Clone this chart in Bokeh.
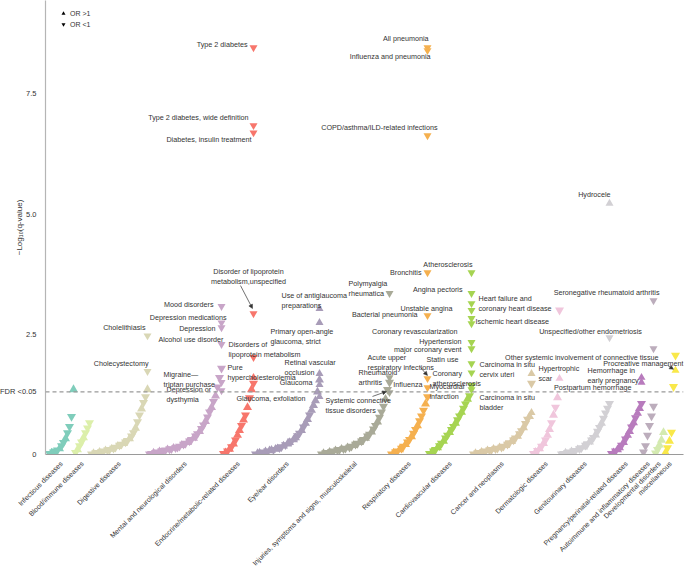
import numpy as np
from bokeh.plotting import figure
from bokeh.models import (Range1d, FixedTicker, Span, Legend, LegendItem,
                          ColumnDataSource, Arrow, NormalHead)
from bokeh.core.properties import value
from bokeh.embed import file_html
from bokeh.resources import INLINE

FONT = "Liberation Sans"
TXT = "#333333"

# ---------------- data ----------------
CATEGORIES = ["Infectious diseases", "Blood/immune diseases", "Digestive diseases",
              "Mental and neurological disorders", "Endocrine/metabolic-related diseases",
              "Eye/ear disorders", "Injuries, symptoms and signs, musculoskeletal",
              "Respiratory diseases", "Cardiovascular diseases", "Cancer and neoplasms",
              "Dermatologic diseases", "Genitourinary diseases",
              "Pregnancy/perinatal-related diseases", "Autoimmune and inflammatory diseases",
              "Developmental disorders", "miscellaneous"]
COLORS = ["#7fcdbb", "#dcefaa", "#d9d7b5", "#c8a5c8", "#f7766c", "#a89cb8", "#a9aa98",
          "#f5b04f", "#a6d452", "#dac9a6", "#f0c6dc", "#d2d0d4", "#b87bbd", "#bcadbc",
          "#d4eab0", "#f9e84a"]

# -log10(q) of the unlabelled phenotypes per category (sorted), and OR direction
INFECTIOUS = [0.02, 0.03, 0.05, 0.07, 0.09, 0.12, 0.18, 0.25, 0.33, 0.45, 0.58, 0.79, 1.35]
INFECTIOUS_DIR = "duddduddudddu"
BLOOD = [0.04, 0.1, 0.18, 0.26, 0.35, 0.45, 0.55, 0.66]
BLOOD_DIR = "dudduddd"
DIGESTIVE = [0.01, 0.02, 0.03, 0.04, 0.05, 0.06, 0.07, 0.08, 0.09, 0.1, 0.11, 0.13, 0.15,
             0.17, 0.19, 0.21, 0.23, 0.26, 0.29, 0.33, 0.38, 0.45, 0.55, 0.68, 0.82, 0.95,
             1.08, 1.2, 1.35]
DIGESTIVE_DIR = "duddudduddudduddudduddudduddu"
MENTAL = [0.01, 0.02, 0.03, 0.04, 0.05, 0.06, 0.07, 0.08, 0.09, 0.1, 0.11, 0.12, 0.13,
          0.14, 0.15, 0.17, 0.19, 0.21, 0.23, 0.25, 0.28, 0.31, 0.34, 0.38, 0.43, 0.48,
          0.54, 0.61, 0.69, 0.78, 0.88, 0.98, 1.1, 1.22, 1.4, 1.6, 1.79]
MENTAL_DIR = "dduddudddudduddduddudduddudduddudud"
ENDOCRINE = [0.02, 0.04, 0.07, 0.11, 0.16, 0.22, 0.3, 0.4, 0.5, 0.6, 0.72, 0.82, 0.98,
             1.18, 1.35, 1.48]
ENDOCRINE_DIR = "dudududuudududud"
EYE = [0.01, 0.02, 0.03, 0.04, 0.05, 0.06, 0.07, 0.08, 0.09, 0.1, 0.11, 0.12, 0.14, 0.16,
       0.18, 0.2, 0.22, 0.25, 0.28, 0.31, 0.35, 0.39, 0.44, 0.5, 0.57, 0.65, 0.73, 0.82,
       0.92, 1.02, 1.12, 1.3, 1.55]
EYE_DIR = "duudduduuduudduduuduudduduuduuuuu"
INJURIES = [0.01, 0.02, 0.03, 0.04, 0.05, 0.06, 0.07, 0.08, 0.09, 0.1, 0.11, 0.12, 0.13,
            0.14, 0.15, 0.17, 0.19, 0.21, 0.23, 0.25, 0.28, 0.31, 0.34, 0.38, 0.42, 0.47,
            0.53, 0.6, 0.68, 0.77, 0.88, 1.0, 1.15, 1.35, 1.5]
INJURIES_DIR = "duddudduddudduddudduddudduddudddudd"
RESPIRATORY = [0.01, 0.03, 0.05, 0.07, 0.1, 0.13, 0.17, 0.21, 0.26, 0.31, 0.37, 0.44,
               0.52, 0.6, 0.7, 0.8, 0.92, 1.05, 1.2]
RESPIRATORY_DIR = "dudduddudduddudddud"
CARDIO = [0.02, 0.04, 0.07, 0.1, 0.14, 0.18, 0.23, 0.28, 0.34, 0.4, 0.46, 0.52, 0.58,
          0.65, 0.72, 0.8, 0.88, 0.96, 1.05, 1.15, 1.22, 1.43]
CARDIO_DIR = "dudduddudduddudduddudd"
CANCER = [0.01, 0.02, 0.03, 0.04, 0.05, 0.06, 0.07, 0.08, 0.09, 0.1, 0.11, 0.12, 0.13,
          0.14, 0.15, 0.17, 0.19, 0.21, 0.24, 0.27, 0.3, 0.34, 0.38, 0.43, 0.49, 0.56,
          0.64, 0.73, 0.79, 1.48]
CANCER_DIR = "duddudduddudduddudduddudduddud"
DERMATOLOGIC = [0.02, 0.05, 0.08, 0.12, 0.17, 0.23, 0.3, 0.4, 0.52, 0.66, 0.82, 0.98,
                1.18, 3.0]
DERMATOLOGIC_DIR = "dudududuududud"
GENITOURINARY = [0.01, 0.02, 0.03, 0.04, 0.05, 0.06, 0.07, 0.08, 0.1, 0.12, 0.14, 0.16,
                 0.19, 0.22, 0.26, 0.3, 0.35, 0.41, 0.48, 0.56, 0.65, 0.75, 0.86, 0.96,
                 1.06]
GENITOURINARY_DIR = "ddudduddudduddudduddudddd"
PREGNANCY = [0.02, 0.04, 0.07, 0.1, 0.14, 0.19, 0.25, 0.32, 0.4, 0.48, 0.57, 0.66, 0.76,
             0.86, 0.96, 1.06]
PREGNANCY_DIR = "duduududuududuud"
AUTOIMMUNE = [0.05, 0.18, 0.4, 0.6, 0.8, 1.0]
AUTOIMMUNE_DIR = "dddddd"
DEVELOPMENTAL = [0.03, 0.1, 0.2, 0.3, 0.46]
DEVELOPMENTAL_DIR = "dduuu"
MISC = [0.04, 0.14, 0.28, 0.46, 1.41, 2.06]
MISC_DIR = "ududdd"

BAND_VALUES = [INFECTIOUS, BLOOD, DIGESTIVE, MENTAL, ENDOCRINE, EYE, INJURIES, RESPIRATORY,
               CARDIO, CANCER, DERMATOLOGIC, GENITOURINARY, PREGNANCY, AUTOIMMUNE,
               DEVELOPMENTAL, MISC]
BAND_DIRS = [INFECTIOUS_DIR, BLOOD_DIR, DIGESTIVE_DIR, MENTAL_DIR, ENDOCRINE_DIR, EYE_DIR,
             INJURIES_DIR, RESPIRATORY_DIR, CARDIO_DIR, CANCER_DIR, DERMATOLOGIC_DIR,
             GENITOURINARY_DIR, PREGNANCY_DIR, AUTOIMMUNE_DIR, DEVELOPMENTAL_DIR, MISC_DIR]

# named phenotypes: category index, name, -log10(q), direction
HIT_CATEGORY = [2, 2,
                3, 3, 3, 3, 3, 3,
                4, 4, 4, 4, 4, 4,
                5, 5, 5, 5, 5,
                6, 6, 6,
                7, 7, 7, 7, 7, 7, 7,
                8, 8, 8, 8, 8, 8, 8, 8, 8, 8, 8,
                9, 9, 10, 11, 11, 12, 12, 13, 13, 15]
HIT_NAME = ["Cholecystectomy", "Cholelithiasis",
            "Depression or dysthymia", "Migraine—triptan purchase", "Alcohol use disorder",
            "Depression", "Depression medications", "Mood disorders",
            "Pure hypercholesterolemia", "Disorders of lipoprotein metabolism",
            "Disorder of lipoprotein metabolism, unspecified", "Diabetes, insulin treatment",
            "Type 2 diabetes, wide definition", "Type 2 diabetes",
            "Glaucoma, exfoliation", "Glaucoma", "Retinal vascular occlusion",
            "Primary open-angle glaucoma, strict", "Use of antiglaucoma preparations",
            "Systemic connective tissue disorders", "Rheumatoid arthritis",
            "Polymyalgia rheumatica",
            "Influenza", "Acute upper respiratory infections", "Bacterial pneumonia",
            "Bronchitis", "COPD/asthma/ILD-related infections", "Influenza and pneumonia",
            "All pneumonia",
            "Myocardial infarction", "Coronary atherosclerosis", "Statin use",
            "major coronary event", "Hypertension", "Coronary revascularization",
            "Ischemic heart disease", "Unstable angina",
            "Heart failure and coronary heart disease", "Angina pectoris", "Atherosclerosis",
            "Carcinoma in situ bladder", "Carcinoma in situ cervix uteri",
            "Hypertrophic scar", "Unspecified/other endometriosis", "Hydrocele",
            "Postpartum hemorrhage", "Hemorrhage in early pregnancy",
            "Other systemic involvement of connective tissue",
            "Seronegative rheumatoid arthritis", "Procreative management"]
HIT_VALUE = [1.73, 2.47,
             1.33, 1.5, 2.29, 2.64, 2.74, 3.08,
             1.6, 2.02, 2.93, 6.69, 6.84, 8.46,
             1.2, 1.45, 1.68, 2.74, 3.03,
             1.29, 1.6, 3.35,
             1.39, 1.58, 2.89, 3.78, 6.63, 8.4, 8.46,
             1.35, 1.7, 1.89, 2.2, 2.33, 2.72, 2.83, 3.0, 3.14, 3.35, 3.78,
             0.87, 1.68, 1.58, 2.43, 5.22, 1.5, 1.6, 2.2, 3.2, 1.75]
HIT_DIR = "dd" "dddddd" "uddddd" "uuuuu" "ddd" "ddddddd" "ddddddddddd" "uu" "u" "du" "uu" "dd" "u"

FDR_THRESHOLD = 1.3
Y_TICKS = [0, FDR_THRESHOLD, 2.5, 5, 7.5]
Y_TICK_LABELS = ["0", "FDR <0.05", "2.5", "5.0", "7.5"]
LEGEND_LABELS = ["OR >1", "OR <1"]

# ---------------- layout ----------------
W, H = 685, 574
ML, MR, MT, MB = 45, 2, 0, 120
FW, FH = W - ML - MR, H - MT - MB
PX_PER_X, PX_PER_Y = 2.0, 48.1
X0 = -2.0
X1 = X0 + FW / PX_PER_X
Y0 = 0.0
Y1 = FH / PX_PER_Y

# label text, offsets (px, right / down) from the marker, alignment
LABELS = [
    ("Cholelithiasis", "Cholelithiasis", -2, -8, "right"),
    ("Cholecystectomy", "Cholecystectomy", 1, -8, "right"),
    ("Mood disorders", "Mood disorders", -8, -2, "right"),
    ("Depression medications", "Depression medications", 5, -5, "right"),
    ("Depression", "Depression", -6, 1, "right"),
    ("Alcohol use disorder", "Alcohol use disorder", 2, -5, "right"),
    ("Migraine—triptan purchase", "Migraine—\ntriptan purchase", -58, -3, "left"),
    ("Depression or dysthymia", "Depression or\ndysthymia", -55, 4, "left"),
    ("Type 2 diabetes", "Type 2 diabetes", -6, -3, "right"),
    ("Type 2 diabetes, wide definition", "Type 2 diabetes, wide definition", -5, -8, "right"),
    ("Diabetes, insulin treatment", "Diabetes, insulin treatment", -2, 7, "right"),
    ("Disorder of lipoprotein metabolism, unspecified",
     "Disorder of lipoprotein\nmetabolism,unspecified", -5, -37, "center"),
    ("Disorders of lipoprotein metabolism", "Disorders of\nlipoprotein metabolism", -25, -8, "left"),
    ("Pure hypercholesterolemia", "Pure\nhypercholesterolemia", -26, -5, "left"),
    ("Glaucoma, exfoliation", "Glaucoma, exfoliation", -14, 2, "right"),
    ("Use of antiglaucoma preparations", "Use of antiglaucoma\npreparations", -38, -8, "left"),
    ("Primary open-angle glaucoma, strict", "Primary open-angle\nglaucoma, strict", -49, 14, "left"),
    ("Retinal vascular occlusion", "Retinal vascular\nocclusion", -35, -6, "left"),
    ("Glaucoma", "Glaucoma", -7, -2, "right"),
    ("Polymyalgia rheumatica", "Polymyalgia\nrheumatica", -41, -5, "left"),
    ("Rheumatoid arthritis", "Rheumatoid\narthritis", -31, 0, "left"),
    ("Systemic connective tissue disorders", "Systemic connective\ntissue disorders", -64, 13, "left"),
    ("All pneumonia", "All pneumonia", 1, -9, "right"),
    ("Influenza and pneumonia", "Influenza and pneumonia", 3, 6, "right"),
    ("COPD/asthma/ILD-related infections", "COPD/asthma/ILD-related infections", 10, -8, "right"),
    ("Bronchitis", "Bronchitis", -6, 0, "right"),
    ("Bacterial pneumonia", "Bacterial pneumonia", -10, -1, "right"),
    ("Acute upper respiratory infections", "Acute upper\nrespiratory infections", -60, -16, "left"),
    ("Influenza", "Influenza", -5, -3, "right"),
    ("Atherosclerosis", "Atherosclerosis", 1, -8, "right"),
    ("Angina pectoris", "Angina pectoris", -9, -4, "right"),
    ("Heart failure and coronary heart disease", "Heart failure and\ncoronary heart disease", 7, 0, "left"),
    ("Unstable angina", "Unstable angina", -19, -2, "right"),
    ("Ischemic heart disease", "Ischemic heart disease", 4, 3, "left"),
    ("Coronary revascularization", "Coronary revascularization", -14, 8, "right"),
    ("Hypertension", "Hypertension", -10, -1, "right"),
    ("major coronary event", "major coronary event", -10, 1, "right"),
    ("Statin use", "Statin use", -13, -4, "right"),
    ("Coronary atherosclerosis", "Coronary\natherosclerosis", -39, 6, "left"),
    ("Myocardial infarction", "Myocardial\ninfarction", -42, 2, "left"),
    ("Carcinoma in situ cervix uteri", "Carcinoma in situ\ncervix uteri", -52, -4, "left"),
    ("Carcinoma in situ bladder", "Carcinoma in situ\nbladder", -52, -10, "left"),
    ("Hypertrophic scar", "Hypertrophic\nscar", -21, -5, "left"),
    ("Hydrocele", "Hydrocele", 1, -9, "right"),
    ("Unspecified/other endometriosis", "Unspecified/other endometriosis", -19, -6, "center"),
    ("Hemorrhage in early pregnancy", "Hemorrhage in\nearly pregnancy", -54, -2, "left"),
    ("Postpartum hemorrhage", "Postpartum hemorrhage", -10, 5, "right"),
    ("Seronegative rheumatoid arthritis", "Seronegative rheumatoid arthritis", 6, -8, "right"),
    ("Other systemic involvement of connective tissue",
     "Other systemic involvement of connective tissue", 5, 9, "right"),
    ("Procreative management", "Procreative management", 8, -7, "right"),
]
ARROWS = [
    ("Disorder of lipoprotein metabolism, unspecified", -13, -28, -1, -5),
    ("Systemic connective tissue disorders", -17, 4, -3, -1),
    ("Acute upper respiratory infections", -7, -11, 0, -3),
    ("Procreative management", -8, -5, -2, -1),
]

# ---------------- build ----------------
bx, by, bc, bm = [], [], [], []
starts, centers = [], []
pos = 0
for ci, (vals, dirs) in enumerate(zip(BAND_VALUES, BAND_DIRS)):
    starts.append(pos)
    for k, v in enumerate(vals):
        d = dirs[k] if k < len(dirs) else "d"
        bx.append(pos + k)
        by.append(v)
        bc.append(COLORS[ci])
        bm.append("triangle" if d == "u" else "inverted_triangle")
    centers.append(pos + (len(vals) - 1) / 2.0)
    pos += len(vals)

hx, hy, hc, hm = [], [], [], []
hit_pos = {}
for ci, name, v, d in zip(HIT_CATEGORY, HIT_NAME, HIT_VALUE, HIT_DIR):
    x = starts[ci] + len(BAND_VALUES[ci]) - 1
    hx.append(x)
    hy.append(v)
    hc.append(COLORS[ci])
    hm.append("triangle" if d == "u" else "inverted_triangle")
    hit_pos[name] = (x, v)

p = figure(width=W, height=H, x_range=Range1d(X0, X1), y_range=Range1d(Y0, Y1),
           output_backend="svg", toolbar_location=None,
           min_border_left=ML, min_border_right=MR, min_border_top=MT, min_border_bottom=MB)
p.outline_line_color = None
p.grid.visible = False
p.background_fill_color = "white"

p.scatter(x="x", y="y", marker="m", fill_color="c", line_color=None, size=9,
          source=ColumnDataSource(dict(x=bx, y=by, c=bc, m=bm)))
p.scatter(x="x", y="y", marker="m", fill_color="c", line_color=None, size=8,
          source=ColumnDataSource(dict(x=hx, y=hy, c=hc, m=hm)))

p.add_layout(Span(location=FDR_THRESHOLD, dimension="width", line_color="#999999",
                  line_dash="4 3", line_width=1.2))

# labels
groups = {}
for name, text, dx, dy, align in LABELS:
    mx, mv = hit_pos[name]
    g = groups.setdefault(align, dict(x=[], y=[], t=[]))
    g["x"].append(mx + dx / PX_PER_X)
    g["y"].append(mv - dy / PX_PER_Y)
    g["t"].append(text)
for align, g in groups.items():
    p.text(x="x", y="y", text="t", source=ColumnDataSource(g), text_align=align,
           text_baseline="middle", text_font=value(FONT), text_font_size=value("7.2px"),
           text_color=TXT, text_line_height=1.15)

for name, dx0, dy0, dx1, dy1 in ARROWS:
    mx, mv = hit_pos[name]
    p.add_layout(Arrow(end=NormalHead(size=4, fill_color=TXT, line_color=TXT, line_width=0.5),
                       x_start=mx + dx0 / PX_PER_X, y_start=mv - dy0 / PX_PER_Y,
                       x_end=mx + dx1 / PX_PER_X, y_end=mv - dy1 / PX_PER_Y,
                       line_color=TXT, line_width=0.7))

# legend for OR direction (proxy glyphs kept outside the visible ranges)
proxy = ColumnDataSource(dict(x=[X0 - 100], y=[Y0 - 100]))
r_up = p.scatter(x="x", y="y", source=proxy, marker="triangle", size=7,
                 fill_color="black", line_color=None)
r_dn = p.scatter(x="x", y="y", source=proxy, marker="inverted_triangle", size=7,
                 fill_color="black", line_color=None)
leg = Legend(items=[LegendItem(label=LEGEND_LABELS[0], renderers=[r_up], index=0),
                    LegendItem(label=LEGEND_LABELS[1], renderers=[r_dn], index=0)],
             location=(13, FH - 29), padding=0, margin=0, spacing=1, glyph_width=10,
             glyph_height=10, label_height=10, label_standoff=2,
             label_text_font_size="7px", label_text_font=FONT, label_text_color=TXT,
             border_line_color=None, background_fill_alpha=0)
p.add_layout(leg)

# axes
def key(c):
    return int(c) if float(c).is_integer() else c

p.xaxis.ticker = FixedTicker(ticks=centers)
p.xaxis.major_label_overrides = {key(c): n for c, n in zip(centers, CATEGORIES)}
p.xaxis.major_label_orientation = np.pi / 4
p.xaxis.major_tick_line_color = None
p.xaxis.minor_tick_line_color = None
p.xaxis.axis_line_color = "#9a9a9a"
p.xaxis.axis_line_width = 1.2
p.xaxis.major_label_text_font = FONT
p.xaxis.major_label_text_font_size = "7px"
p.xaxis.major_label_text_color = TXT
p.xaxis.major_label_standoff = 2

p.yaxis.ticker = FixedTicker(ticks=Y_TICKS)
p.yaxis.major_label_overrides = {key(t): s for t, s in zip(Y_TICKS, Y_TICK_LABELS)}
p.yaxis.axis_label = "−Log₁₀(q-value)"
p.yaxis.axis_label_text_font_style = "normal"
p.yaxis.axis_label_text_font = FONT
p.yaxis.axis_label_text_font_size = "8px"
p.yaxis.axis_label_text_color = TXT
p.yaxis.axis_label_standoff = -27
p.yaxis.major_tick_line_color = None
p.yaxis.minor_tick_line_color = None
p.yaxis.axis_line_color = "#b5b5b5"
p.yaxis.axis_line_width = 1.2
p.yaxis.major_label_text_font = FONT
p.yaxis.major_label_text_font_size = "7.5px"
p.yaxis.major_label_text_color = TXT
p.yaxis.major_label_standoff = 3

open("out.html", "w").write(file_html(p, INLINE))
